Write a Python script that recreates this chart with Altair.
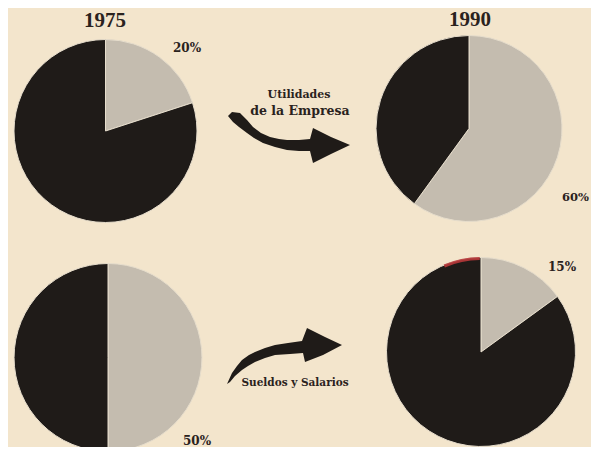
import altair as alt
import pandas as pd

# ---- data ----
pie_ids = ["Utilidades 1975", "Utilidades 1990", "Sueldos 1975", "Sueldos 1990"]
light_share = [20, 60, 50, 15]          # labelled (light) slice, %
dark_share = [80, 40, 50, 85]           # remainder, %
share_labels = ["20%", "60%", "50%", "15%"]
year_labels = ["1975", "1990"]
arrow_labels = [["Utilidades", "de la Empresa"], ["Sueldos y Salarios"]]

# ---- build slice table ----
rows = []
for pid, lv, dv in zip(pie_ids, light_share, dark_share):
    rows.append({"pie": pid, "part": "share", "start": 0, "end": lv})
    rows.append({"pie": pid, "part": "rest", "start": lv, "end": lv + dv})
slices = pd.DataFrame(rows)

# ---- layout (chart pixel coords; page margin 8px) ----
O = 8
BG = "#f3e5cc"
DARK = "#1f1b18"
LIGHT = "#c4bcaf"
TXT = "#2a221d"
FONT = "Liberation Serif"
FONT2 = "DejaVu Serif"

centers = {
    "Utilidades 1975": (105.5 - O, 131 - O, 91.5),
    "Utilidades 1990": (469 - O, 128.5 - O, 93),
    "Sueldos 1975": (108 - O, 357.5 - O, 94),
    "Sueldos 1990": (481 - O, 352 - O, 94.5),
}

color = alt.Color(
    "part:N",
    scale=alt.Scale(domain=["share", "rest"], range=[LIGHT, DARK]),
    legend=None,
)
theta = alt.Theta("start:Q", scale=alt.Scale(domain=[0, 100], range=[0, 6.283185307]))

layers = []
for pid in pie_ids:
    cx, cy, r = centers[pid]
    layers.append(
        alt.Chart(slices)
        .transform_filter(alt.datum.pie == pid)
        .mark_arc(outerRadius=r, stroke="#e6ddcc", strokeWidth=1)
        .encode(theta=theta, theta2="end:Q", color=color,
                x=alt.value(cx), y=alt.value(cy))
    )

# small red print mark on the rim of the last pie
cx, cy, r = centers["Sueldos 1990"]
layers.append(
    alt.Chart(pd.DataFrame({"a": [1]}))
    .mark_arc(innerRadius=r - 2.5, outerRadius=r + 0.5, color="#b8383a", opacity=0.9)
    .encode(theta=alt.value(5.88), theta2=alt.value(6.27),
            x=alt.value(cx), y=alt.value(cy))
)

def text_layer(t, x, y, size, align="center", font=FONT):
    return (
        alt.Chart(pd.DataFrame({"t": [t]}))
        .mark_text(font=font, fontWeight="bold", fontSize=size, color=TXT,
                   align=align, baseline="middle")
        .encode(text="t:N", x=alt.value(x - O), y=alt.value(y - O))
    )

# year headers
layers.append(text_layer(year_labels[0], 105, 21, 21))
layers.append(text_layer(year_labels[1], 470, 20, 21))
# share labels
layers.append(text_layer(share_labels[0], 187, 48, 12, font=FONT2))
layers.append(text_layer(share_labels[1], 589, 198, 11.5, align="right", font=FONT2))
layers.append(text_layer(share_labels[2], 197, 441, 12, font=FONT2))
layers.append(text_layer(share_labels[3], 562, 267, 12, font=FONT2))
# arrow captions
layers.append(text_layer(arrow_labels[0][0], 299, 95, 11, font=FONT2))
layers.append(text_layer(arrow_labels[0][1], 300, 111, 12.5, font=FONT2))
layers.append(text_layer(arrow_labels[1][0], 295, 383, 10.5, font=FONT2))

# decorative curved arrows (custom symbol paths, size=4 -> 1 unit = 1 px)
top_arrow = ("M -59 -24 L -51 -23 L -44 -16 L -38 -9 L -30 -3 L -21 1 L -12 3 L -4 4 L 8 4 L 19 3 "
             "L 22 -8 L 40 1 L 59 9 L 40 18 L 22 27 L 19 15 L 8 15 L -4 14 L -16 11 L -28 7 "
             "L -37 2 L -44 -3 L -52 -9 L -58 -14 L -63 -20 Z")
bot_arrow = ("M -53 18 L -48 11 L -43 5 L -36 0 L -30 -3 L -20 -7 L -10 -10 L 3 -12 L 17 -14 "
             "L 22 -27 L 40 -18 L 57 -10 L 38 0 L 20 7 L 18 -2 L 5 -1 L -10 0 L -20 3 "
             "L -30 7 L -37 11 L -43 15 L -50 21 L -55 27 L -58 29 Z")
for path, (ax, ay) in [(top_arrow, (291, 136)), (bot_arrow, (285, 355))]:
    layers.append(
        alt.Chart(pd.DataFrame({"a": [1]}))
        .mark_point(shape=path, size=4, filled=True, fill=DARK, opacity=1, strokeWidth=0)
        .encode(x=alt.value(ax - O), y=alt.value(ay - O))
    )

chart = (
    alt.layer(*layers)
    .properties(width=583, height=439, padding=0, autosize="none", background=BG)
    .configure_view(strokeWidth=0)
)

chart.save("out.html", embed_options={"renderer": "svg", "actions": False})
